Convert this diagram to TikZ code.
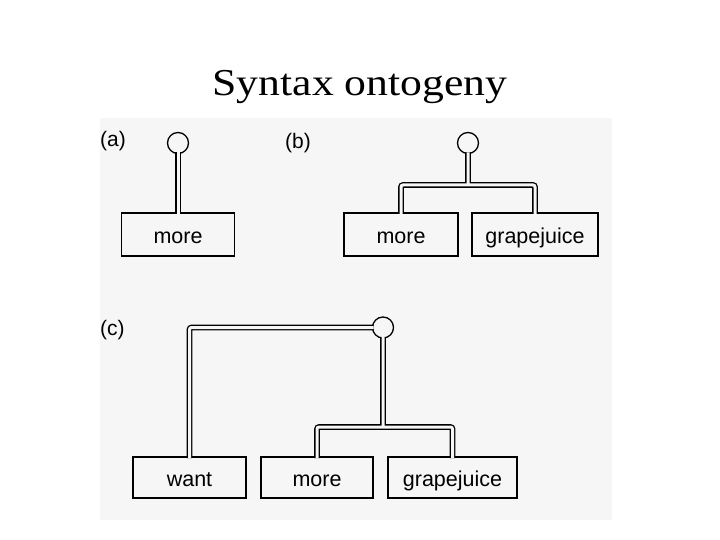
\documentclass[tikz,border=0pt]{standalone}
\usepackage{fontspec}
\setmainfont{Liberation Serif}
\newfontfamily\figfont{Liberation Sans}
\definecolor{paper}{gray}{0.965}

\begin{document}
\begin{tikzpicture}[x=1pt, y=-1pt,
    word/.style={draw, line width=1.3pt, fill=paper, minimum width=113pt, minimum height=43pt,
      inner sep=0pt, outer sep=-1pt, text height=20pt, text depth=2pt,
      font=\figfont\fontsize{21.5}{25}\selectfont},
    root/.style={circle, draw, line width=1.3pt, fill=paper, minimum size=21pt, inner sep=0pt, outer sep=-1pt},
    wire/.style={double=paper, double distance=3pt, line width=1.3pt, rounded corners=2pt},
    tag/.style={font=\figfont\fontsize{21}{25}\selectfont, anchor=west, inner sep=0pt}]
        % page and scanned figure
        \useasboundingbox (0,0) rectangle (720,540);
        \fill[paper] (100,118) rectangle (612,520);
        \node[font=\fontsize{38}{44}\selectfont, anchor=base, inner sep=0pt] (title) at (360,96)
            {\scalebox{1.15}[1]{Syntax ontogeny}};

        % panel labels
        \node[tag] (la) at (100,141) {(a)};
        \node[tag] (lb) at (285,143) {(b)};
        \node[tag] (lc) at (100,330) {(c)};

        % (a) one word
        \node[root] (ac) at (178,143) {};
        \node[word] (amore) at (178,234.5) {more};
        \draw[wire] (ac.south) -- (amore.north);

        % (b) two words
        \node[root] (bc) at (468,143) {};
        \node[word, minimum width=114pt] (bmore) at (401,234.5) {more};
        \node[word, minimum width=126pt] (bgrape) at (535,234.5) {grapejuice};
        \coordinate (bj) at (468,185);
        \draw[wire] (bc.south) -- (bj)
            (bmore.north) -- (bmore.north |- bj) -- (bgrape.north |- bj) -- (bgrape.north);

        % (c) three words, nested
        \node[root] (cc) at (383,327.5) {};
        \node[word, minimum height=41pt] (cwant) at (189.5,477.5) {want};
        \node[word, minimum width=112pt, minimum height=41pt] (cmore) at (317,477.5) {more};
        \node[word, minimum width=129pt, minimum height=41pt] (cgrape) at (452.5,477.5) {grapejuice};
        \coordinate (cj) at (383,427);
        \draw[wire] (cc.west) -- (cc.west -| cwant.north) -- (cwant.north)
            (cc.south) -- (cj)
            (cmore.north) -- (cmore.north |- cj) -- (cgrape.north |- cj) -- (cgrape.north);
\end{tikzpicture}
\end{document}
